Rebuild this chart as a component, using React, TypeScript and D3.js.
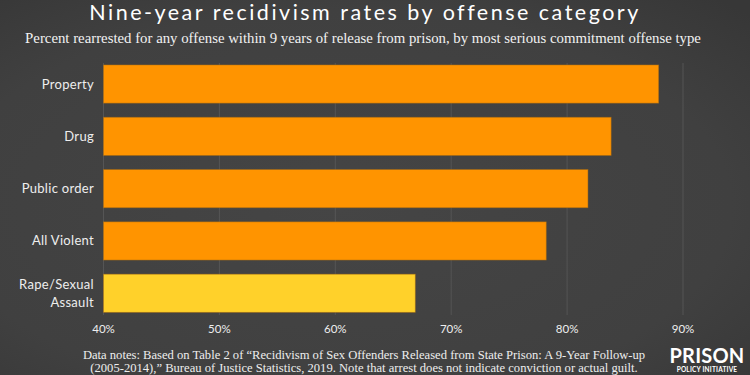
import React from "react";
import * as d3 from "d3";

const categories = ["Property", "Drug", "Public order", "All Violent", "Rape/Sexual Assault"];
const values = [87.9, 83.8, 81.8, 78.2, 66.9];
const barColors = ["#ff9400", "#ff9400", "#ff9400", "#ff9400", "#ffd12a"];
const ticks = [40, 50, 60, 70, 80, 90];

const W = 750;
const H = 375;

export default function App() {
  const x = d3.scaleLinear().domain([40, 90]).range([103.5, 683]);
  const y = d3
    .scaleBand<string>()
    .domain(categories)
    .range([57.9, 319.4])
    .paddingInner(0.27)
    .paddingOuter(0.135);
  const sans = "Lato, 'Noto Sans', sans-serif";
  const serif = "'Liberation Serif', 'DejaVu Serif', serif";
  return (
    <svg width={W} height={H} style={{ position: "absolute", left: 0, top: 0 }}>
      <defs>
        <radialGradient id="bg" cx="0.45" cy="0.55" r="0.75">
          <stop offset="0" stopColor="#454545" />
          <stop offset="0.7" stopColor="#404040" />
          <stop offset="1" stopColor="#373737" />
        </radialGradient>
      </defs>
      <rect width={W} height={H} fill="url(#bg)" />
      <text x={365} y={20} textAnchor="middle" fill="#ffffff" fontFamily={sans} fontSize={21.5} letterSpacing={2.5}>
        Nine-year recidivism rates by offense category
      </text>
      <text x={363} y={43} textAnchor="middle" fill="#f2f2f2" fontFamily={serif} fontSize={14.8}>
        Percent rearrested for any offense within 9 years of release from prison, by most serious commitment offense type
      </text>
      {ticks.map((t) => (
        <g key={t}>
          <line x1={x(t)} x2={x(t)} y1={63} y2={315} stroke="#555555" strokeWidth={1} />
          <text x={x(t)} y={333} textAnchor="middle" fill="#eeeeee" fontFamily={sans} fontSize={11.5}>
            {t}%
          </text>
        </g>
      ))}
      {categories.map((c, i) => (
        <rect
          key={c}
          x={x(40)}
          y={y(c)!}
          width={x(values[i]) - x(40)}
          height={y.bandwidth()}
          fill={barColors[i]}
          stroke="#a86a10"
          strokeOpacity={0.6}
          strokeWidth={0.8}
        />
      ))}
      {categories.map((c) => {
        const cy = y(c)! + y.bandwidth() / 2;
        const lines = c === "Rape/Sexual Assault" ? ["Rape/Sexual", "Assault"] : [c];
        return (
          <text key={c} x={94} textAnchor="end" fill="#eeeeee" fontFamily={sans} fontSize={13} letterSpacing={0.3}>
            {lines.map((l, j) => (
              <tspan key={j} x={94} y={cy + 4.5 + (j - (lines.length - 1) / 2) * 18}>
                {l}
              </tspan>
            ))}
          </text>
        );
      })}
      <text x={364} y={359} textAnchor="middle" fill="#eeeeee" fontFamily={serif} fontSize={12.6}>
        Data notes: Based on Table 2 of “Recidivism of Sex Offenders Released from State Prison: A 9-Year Follow-up
      </text>
      <text x={364} y={372} textAnchor="middle" fill="#eeeeee" fontFamily={serif} fontSize={12.6}>
        (2005-2014),” Bureau of Justice Statistics, 2019. Note that arrest does not indicate conviction or actual guilt.
      </text>
      <text x={707} y={363} textAnchor="middle" fill="#ffffff" fontFamily={sans} fontWeight={700} fontSize={20} letterSpacing={0.2}>
        PRISON
      </text>
      <text x={707} y={372} textAnchor="middle" fill="#ffffff" fontFamily={sans} fontWeight={700} fontSize={6.5} letterSpacing={0.2}>
        POLICY INITIATIVE
      </text>
    </svg>
  );
}
